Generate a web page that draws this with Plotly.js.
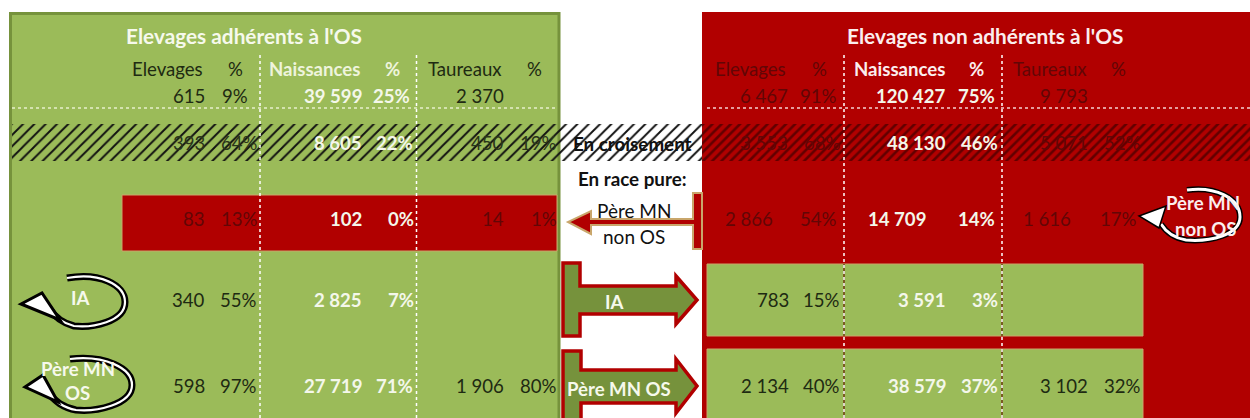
<!DOCTYPE html>
<html><head><meta charset="utf-8">
<script src="https://cdn.plot.ly/plotly-3.0.0.min.js"></script>
<style>html,body{margin:0;padding:0;background:#fff;overflow:hidden}#c{width:1250px;height:418px}</style>
</head><body><div id="c"></div>
<script>
// ---- chart values ----
const titleLeft = "Elevages adhérents à l'OS";
const titleRight = "Elevages non adhérents à l'OS";
const columnHeaders = ["Elevages","%","Naissances","%","Taureaux","%"];
const leftTotals   = ["615","9%","39 599","25%","2 370",""];
const leftCross    = ["393","64%","8 605","22%","450","19%"];
const leftNonOS    = ["83","13%","102","0%","14","1%"];
const leftIA       = ["340","55%","2 825","7%","",""];
const leftOS       = ["598","97%","27 719","71%","1 906","80%"];
const rightTotals  = ["6 467","91%","120 427","75%","9 793",""];
const rightCross   = ["3 553","68%","48 130","46%","5 071","52%"];
const rightNonOS   = ["2 866","54%","14 709","14%","1 616","17%"];
const rightIA      = ["783","15%","3 591","3%","",""];
const rightOS      = ["2 134","40%","38 579","37%","3 102","32%"];

// ---- layout constants ----
const GREEN="#9bbb59", GREEN_D="#76923c", RED="#b10000", TAN="#c9a66b";
const INK="#1e2a12", INK_R="#620606", WHITE="#ffffff";
const F="Lato, Carlito, sans-serif";
const SZ=18.6;
const leftHeadX  =[202,242,359,399,501,541];
const rightHeadX =[785,826,944,983,1086,1125];
const rowSpec=[
 {v:leftTotals, y:96, x:[204,247,361,409,503,0], ink:INK},
 {v:leftCross,  y:143,x:[204,257,361,412,503,556], ink:"#2a3518"},
 {v:leftNonOS,  y:219,x:[204,257,361,413,503,556], ink:INK_R},
 {v:leftIA,     y:300,x:[204,256,361,413,0,0], ink:INK},
 {v:leftOS,     y:386,x:[204,256,361,412,503,556], ink:INK},
 {v:rightTotals,y:96, x:[787,836,944,994,1087,0], ink:INK_R},
 {v:rightCross, y:143,x:[787,840,945,997,1087,1140], ink:INK_R},
 {v:rightNonOS, y:219,x:[772,836,925,994,1070,1136], ink:INK_R},
 {v:rightIA,    y:300,x:[788,839,945,997,0,0], ink:INK},
 {v:rightOS,    y:386,x:[788,839,945,997,1087,1140], ink:INK}
];

function txt(text,x,y,color,size,bold,anchor){
  return {text:bold?"<b>"+text+"</b>":text,x:anchor==="right"?x+2:x,y:y,xref:"x",yref:"y",showarrow:false,
    xanchor:anchor||"center",yanchor:"middle",borderpad:0,
    font:{family:F,size:size||SZ,color:color}};
}
const ann=[];
ann.push(txt(titleLeft,125,35,"#f6f9ec",20.8,true,"left"));
ann.push(txt(titleRight,846,35,"#fbeeee",20.8,true,"left"));
columnHeaders.forEach((h,i)=>{
  const naiss=(i===2||i===3);
  ann.push(txt(h,leftHeadX[i],69,naiss?"#eef4dc":INK,SZ,naiss,"right"));
  ann.push(txt(h,rightHeadX[i],69,naiss?"#fbeeee":INK_R,SZ,naiss,"right"));
});
rowSpec.forEach(r=>{
  r.v.forEach((val,i)=>{
    if(!val) return;
    const naiss=(i===2||i===3);
    ann.push(txt(val,r.x[i],r.y,naiss?"#f4f7ea":r.ink,SZ,naiss,"right"));
  });
});
ann.push(txt("En croisement",632,143,"#111",18.8,true));
ann.push(txt("En race pure:",632,178,"#111",18.8,true));
ann.push(txt("Père MN",634,210,"#111",19,false));
ann.push(txt("non OS",634,236,"#111",19,false));
ann.push(txt("IA",615,302,"#f6f9ec",18.6,true));
ann.push(txt("Père MN OS",619,389,"#f6f9ec",18.6,true));
ann.push(txt("IA",81,298,"#f6f9ec",18.6,true));
ann.push(txt("Père MN",78,369,"#f6f9ec",18.6,true));
ann.push(txt("OS",77,393,"#f6f9ec",18.6,true));
ann.push(txt("Père MN",1203,203,"#fbeeee",18.6,true));
ann.push(txt("non OS",1205,229,"#fbeeee",18.6,true));

function rect(x0,y0,x1,y1,fill,line,w){
  return {type:"rect",x0,y0,x1,y1,xref:"x",yref:"y",layer:"below",fillcolor:fill,
    line:line?{color:line,width:w||1}:{width:0}};
}
function seg(x0,y0,x1,y1,color,w,dash){
  return {type:"line",x0,y0,x1,y1,xref:"x",yref:"y",layer:"above",line:{color,width:w||1.5,dash:dash||"3px,3px"}};
}
function path(d,fill,color,w){
  return {type:"path",path:d,xref:"x",yref:"y",layer:"above",fillcolor:fill,line:{color,width:w}};
}
function curl(d,head,bw,ww,hw){
  return [path(d,"rgba(0,0,0,0)","#000",bw),path(d,"rgba(0,0,0,0)","#fff",ww),path(head,"#fff","#000",hw)];
}
const shapes=[
  rect(10.5,13.5,559,430,GREEN,GREEN_D,3),
  rect(702,12,1260,430,RED),
  rect(122,195,557,251,RED,TAN,1),
  rect(707,264,1143,336,GREEN,TAN,1),
  rect(707,349,1143,430,GREEN,TAN,1),
  seg(12,108,557,108,"#e8f0cc"),
  seg(707,108,1250,108,"#f3d0d0"),
  seg(260,55,260,418,"#ffffff"),
  seg(416.5,55,416.5,418,"#ffffff"),
  seg(844,264,844,336,"#6e3a10",1.5,"solid"),
  seg(844,349,844,418,"#6e3a10",1.5,"solid"),
  seg(1002,264,1002,336,"#6e3a10",1.5,"solid"),
  seg(1002,349,1002,418,"#6e3a10",1.5,"solid"),
  seg(844,55,844,418,"#ffffff"),
  seg(1002,55,1002,418,"#ffffff"),
  path("M702 193 L693 193 L693 219 L591 219 L591 211 L568 222 L591 234 L591 225 L693 225 L693 249 L702 249 Z",RED,TAN,2),
  path("M563 263 L580 263 L580 286 L676 286 L676 276 L697 300 L676 324 L676 314 L580 314 L580 336 L563 336 Z",GREEN_D,RED,3.5),
  path("M563 351 L581 351 L581 370 L676 370 L676 359 L697 386 L676 413 L676 403 L581 403 L581 425 L563 425 Z",GREEN_D,RED,3.5),
  ...curl("M67 278 C100 272 125 285 125 302 C125 322 92 328 74 326 C62 323 54 316 49 308","M21 304 L42 293 L60 320 Z",7,2.2,3),
  ...curl("M70 359 C105 355 132 368 132 385 C132 405 95 412 76 410 C64 408 54 401 49 393","M25 387 L43 375 L58 402 Z",7,2.2,3),
  ...curl("M1187 190 C1215 186 1240 198 1240 217 C1240 235 1210 242 1186 240 C1174 238 1166 232 1161 224","M1139 216 L1166 206 L1159 228 Z",6,3,1.5)
];

function hatch(x0,x1,fg,size,sol){
  return {type:"bar",orientation:"h",y:[142.5],x:[x1-x0],base:[x0],width:[37],hoverinfo:"skip",showlegend:false,
    marker:{color:"rgba(0,0,0,0)",line:{width:0},pattern:{shape:"/",fgcolor:fg,fgopacity:1,bgcolor:"rgba(0,0,0,0)",size:size,solidity:sol}}};
}
const traces=[hatch(12,702,"#111",8,0.24),hatch(702,1250,"rgba(45,0,0,0.6)",6.5,0.4)];
const layout={width:1250,height:418,margin:{l:0,r:0,t:0,b:0,pad:0},paper_bgcolor:"#fff",plot_bgcolor:"#fff",
  barmode:"overlay",showlegend:false,
  xaxis:{range:[0,1250],visible:false,fixedrange:true},
  yaxis:{range:[418,0],visible:false,fixedrange:true},
  shapes:shapes,annotations:ann};
Plotly.newPlot("c",traces,layout,{displayModeBar:false,staticPlot:true});
</script></body></html>
